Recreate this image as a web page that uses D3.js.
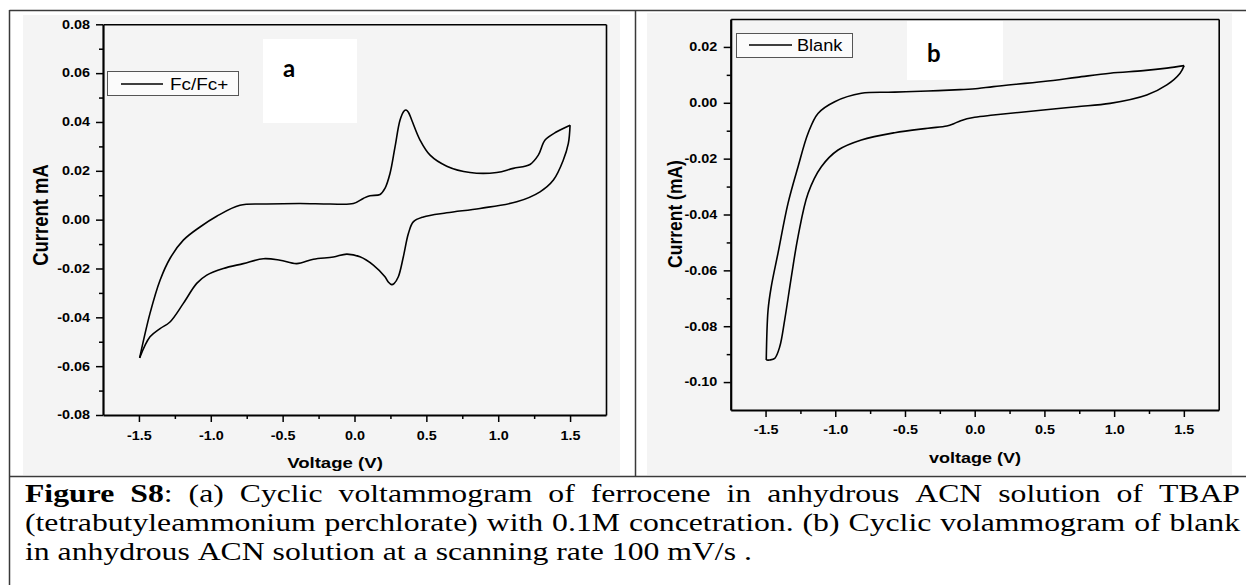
<!DOCTYPE html>
<html><head><meta charset="utf-8">
<script src="https://cdn.jsdelivr.net/npm/d3@7"></script>
<style>body{margin:0;background:#fff}svg{display:block}</style>
</head><body>
<svg id="c" width="1246" height="585"></svg>
<script>
// ---------- data ----------
const xTicks = [-1.5, -1.0, -0.5, 0.0, 0.5, 1.0, 1.5];
const xMinor = [-1.25, -0.75, -0.25, 0.25, 0.75, 1.25];
const aYTicks = [-0.08, -0.06, -0.04, -0.02, 0.00, 0.02, 0.04, 0.06, 0.08];
const aYMinor = [-0.07, -0.05, -0.03, -0.01, 0.01, 0.03, 0.05, 0.07];
const bYTicks = [-0.10, -0.08, -0.06, -0.04, -0.02, 0.00, 0.02];
const bYMinor = [-0.09, -0.07, -0.05, -0.03, -0.01, 0.01];

// panel a : Fc/Fc+  (forward = anodic sweep, reverse = cathodic sweep)
const aFwdV = [-1.495,-1.423,-1.353,-1.284,-1.191,-1.075,-0.959,-0.797,-0.611,-0.379,-0.170,-0.008,0.061,0.108,0.178,0.212,0.247,0.282,0.317,0.345,0.359,0.375,0.398,0.456,0.526,0.642,0.804,0.990,1.105,1.221,1.279,1.326,1.407,1.500];
const aFwdI = [-0.0566,-0.0384,-0.0248,-0.0159,-0.0084,-0.0030,0.0014,0.0059,0.0064,0.0066,0.0064,0.0066,0.0087,0.0098,0.0103,0.0128,0.0189,0.0298,0.0408,0.0445,0.0449,0.0440,0.0408,0.0326,0.0264,0.0219,0.0193,0.0193,0.0210,0.0226,0.0264,0.0326,0.0360,0.0387];
const aRevV = [1.500,1.488,1.453,1.384,1.291,1.129,0.873,0.642,0.479,0.409,0.375,0.340,0.305,0.275,0.259,0.235,0.212,0.131,0.038,-0.054,-0.147,-0.286,-0.402,-0.518,-0.634,-0.774,-0.913,-1.028,-1.098,-1.191,-1.284,-1.353,-1.423,-1.495];
const aRevI = [0.0387,0.0312,0.0244,0.0162,0.0114,0.0073,0.0046,0.0028,0.0011,-0.0009,-0.0057,-0.0152,-0.0234,-0.0262,-0.0266,-0.0255,-0.0234,-0.0186,-0.0152,-0.0141,-0.0153,-0.0162,-0.0180,-0.0166,-0.0160,-0.0180,-0.0200,-0.0227,-0.0261,-0.0343,-0.0419,-0.0446,-0.0480,-0.0566];

// panel b : Blank
const bFwdV = [-1.495,-1.482,-1.459,-1.411,-1.339,-1.267,-1.195,-1.124,-1.004,-0.813,-0.574,-0.335,-0.105,0.024,0.134,0.492,0.732,0.971,1.210,1.378,1.502];
const bFwdI = [-0.0921,-0.0742,-0.0658,-0.0539,-0.0360,-0.0229,-0.0109,-0.0038,0.0004,0.0034,0.0038,0.0042,0.0047,0.0051,0.0058,0.0076,0.0091,0.0106,0.0115,0.0124,0.0133];
const bRevV = [1.502,1.473,1.378,1.234,0.971,0.732,0.492,0.134,0.000,-0.100,-0.150,-0.200,-0.335,-0.574,-0.813,-0.980,-1.100,-1.195,-1.267,-1.315,-1.363,-1.398,-1.434,-1.470,-1.495];
const bRevI = [0.0133,0.0106,0.0064,0.0028,-0.0002,-0.0014,-0.0026,-0.0044,-0.0052,-0.0064,-0.0075,-0.0083,-0.0091,-0.0107,-0.0133,-0.0169,-0.0229,-0.0324,-0.0479,-0.0623,-0.0778,-0.0873,-0.0915,-0.0921,-0.0921];

const captionLines = [
  "**Figure** **S8**: (a) Cyclic voltammogram of ferrocene in anhydrous ACN solution of TBAP",
  "(tetrabutyleammonium perchlorate) with 0.1M concetration. (b) Cyclic volammogram of blank",
  "in anhydrous ACN solution at a scanning rate 100 mV/s ."
];

// ---------- drawing ----------
const svg = d3.select('#c');
const SX = 1.2;            // horizontal stretch of the source image lettering
const SANS = '"Liberation Sans", Arial, sans-serif';
const BORDER = '#3a3a3a';
const fmt = p => d => d3.format(p)(d).replace('\u2212', '-');

// table borders
[[9.5,10.5,1246,10.5],[9.5,10,9.5,585],[635.5,10,635.5,477],[9,476.5,1246,476.5]].forEach(l=>{
  svg.append('line').attr('x1',l[0]).attr('y1',l[1]).attr('x2',l[2]).attr('y2',l[3])
     .attr('stroke',BORDER).attr('stroke-width',1.5);
});

function txt(g, x, y, s, o) {
  o = o || {};
  return g.append('text')
    .attr('transform', `translate(${x},${y}) scale(${o.sx || SX},1)` + (o.rot ? ` rotate(${o.rot})` : ''))
    .attr('font-family', o.font || SANS)
    .attr('font-size', o.size || 12)
    .attr('font-weight', o.weight || 'normal')
    .attr('text-anchor', o.anchor || 'start')
    .attr('fill', '#000')
    .text(s);
}

function panel(cfg) {
  const g = svg.append('g');
  g.append('rect').attr('x', cfg.img[0]).attr('y', cfg.img[1]).attr('width', cfg.img[2]).attr('height', cfg.img[3]).attr('fill', '#f4f4f4');
  g.append('rect').attr('x', cfg.tagBox[0]).attr('y', cfg.tagBox[1]).attr('width', cfg.tagBox[2]).attr('height', cfg.tagBox[3]).attr('fill', '#fff');

  const x = d3.scaleLinear([-1.75, 1.75], cfg.xRange);
  const y = d3.scaleLinear(cfg.yDomain, cfg.yRange);
  const [x0, x1] = cfg.xRange, [y0, y1] = cfg.yRange;

  const style = s => s.attr('font-family', SANS).call(a => a.selectAll('line').attr('stroke', '#000').attr('stroke-width', 1.5));

  // minor ticks
  g.append('g').attr('transform', `translate(${x0},0)`)
    .call(d3.axisLeft(y).tickValues(cfg.yMinor).tickSize(4).tickSizeOuter(0).tickFormat(''))
    .call(style).call(s => s.select('.domain').remove());
  g.append('g').attr('transform', `translate(0,${y0})`)
    .call(d3.axisBottom(x).tickValues(xMinor).tickSize(4).tickSizeOuter(0).tickFormat(''))
    .call(style).call(s => s.select('.domain').remove());

  // major axes
  const ya = g.append('g').attr('transform', `translate(${x0},0)`)
    .call(d3.axisLeft(y).tickValues(cfg.yTicks).tickSize(7).tickSizeOuter(0).tickFormat(fmt('.2f')))
    .call(style);
  ya.select('.domain').attr('stroke', '#000').attr('stroke-width', 2.2);
  ya.selectAll('text').attr('x', -cfg.yLabGap / SX).attr('transform', `scale(${SX},1)`)
    .attr('font-size', 12).attr('font-weight', 'bold').attr('fill', '#000');

  const xa = g.append('g').attr('transform', `translate(0,${y0})`)
    .call(d3.axisBottom(x).tickValues(xTicks).tickSize(7).tickSizeOuter(0).tickFormat(fmt('.1f')))
    .call(style);
  xa.select('.domain').attr('stroke', '#000').attr('stroke-width', 2.2);
  xa.selectAll('text').attr('y', cfg.xLabGap).attr('transform', `scale(${SX},1)`)
    .attr('font-size', 12).attr('font-weight', 'bold').attr('fill', '#000');

  // frame top / right
  g.append('g').attr('transform', `translate(0,${y1})`)
    .call(d3.axisTop(x).tickValues([]).tickSizeOuter(0))
    .select('.domain').attr('stroke', '#000').attr('stroke-width', 1.6);
  g.append('g').attr('transform', `translate(${x1},0)`)
    .call(d3.axisRight(y).tickValues([]).tickSizeOuter(0))
    .select('.domain').attr('stroke', '#000').attr('stroke-width', 1.6);

  // curves
  const line = d3.line().x(d => x(d[0])).y(d => y(d[1])).curve(d3.curveCatmullRom.alpha(0.5));
  [cfg.fwd, cfg.rev].forEach(d => {
    g.append('path').datum(d).attr('d', line).attr('fill', 'none')
      .attr('stroke', '#000').attr('stroke-width', 1.6).attr('stroke-linejoin', 'round');
  });

  // legend
  const L = cfg.legend;
  g.append('rect').attr('x', L.box[0] + 0.5).attr('y', L.box[1] + 0.5).attr('width', L.box[2]).attr('height', L.box[3])
    .attr('fill', '#fbfbfb').attr('stroke', '#555').attr('stroke-width', 1);
  g.append('line').attr('x1', L.line[0]).attr('x2', L.line[1]).attr('y1', L.line[2]).attr('y2', L.line[2])
    .attr('stroke', '#000').attr('stroke-width', 1.6);
  txt(g, L.text[0], L.text[1], L.label, { size: L.size, sx: L.sx });

  // axis titles
  txt(g, cfg.yTitle[0], cfg.yTitle[1], cfg.yTitle[2], { size: cfg.yTitle[3], weight: 'bold', anchor: 'middle', rot: -90 });
  txt(g, cfg.xTitle[0], cfg.xTitle[1], cfg.xTitle[2], { size: cfg.xTitle[3], weight: 'bold', anchor: 'middle' });

  // panel tag
  txt(g, cfg.tag[0], cfg.tag[1], cfg.tag[2], { size: 24, weight: 'bold', sx: 1, font: 'Lato, "Open Sans", sans-serif' });
}

panel({
  img: [23, 15, 597, 460], tagBox: [263, 39, 94, 84],
  xRange: [103, 606], yDomain: [-0.08, 0.08], yRange: [415, 24.3],
  yTicks: aYTicks, yMinor: aYMinor, yLabGap: 13, xLabGap: 16,
  fwd: d3.zip(aFwdV, aFwdI), rev: d3.zip(aRevV, aRevI),
  legend: { box: [107, 71, 131, 24], line: [121, 163, 84], text: [170, 89.5], label: 'Fc/Fc+', size: 16, sx: 1.18 },
  yTitle: [48, 215, 'Current mA', 18.5], xTitle: [335, 468, 'Voltage (V)', 15.5],
  tag: [283, 77, 'a']
});

panel({
  img: [647, 13, 585, 462], tagBox: [907, 21, 96, 59],
  xRange: [730.7, 1218.7], yDomain: [-0.11, 0.03], yRange: [410, 19],
  yTicks: bYTicks, yMinor: bYMinor, yLabGap: 13.5, xLabGap: 15.5,
  fwd: d3.zip(bFwdV, bFwdI), rev: d3.zip(bRevV, bRevI),
  legend: { box: [736, 33, 116, 24], line: [749, 792, 45], text: [797, 51], label: 'Blank', size: 16.5, sx: 1.1 },
  yTitle: [682, 214, 'Current (mA)', 17.5], xTitle: [975, 463, 'voltage (V)', 15],
  tag: [927, 62, 'b']
});

// caption
const CF = 26, CSX = 1.22, CL = 25, CR = 1240, base = [502, 531, 560];
const cap = svg.append('g');
captionLines.forEach((line, i) => {
  const words = line.split(' ');
  const nodes = words.map(w => {
    const t = cap.append('text').attr('font-family', '"Liberation Serif","Times New Roman",serif')
      .attr('font-size', CF).attr('fill', '#000');
    w.split(/(\*\*[^*]+\*\*)/).filter(s => s).forEach(s => {
      const b = s.startsWith('**');
      t.append('tspan').attr('font-weight', b ? 'bold' : 'normal').text(b ? s.slice(2, -2) : s);
    });
    return t;
  });
  const widths = nodes.map(n => n.node().getComputedTextLength() * CSX);
  const total = d3.sum(widths);
  const gap = i < 2 ? (CR - CL - total) / (words.length - 1) : CF * 0.25 * CSX;
  let xp = CL;
  nodes.forEach((n, k) => { n.attr('transform', `translate(${xp},${base[i]}) scale(${CSX},1)`); xp += widths[k] + gap; });
});
</script>
</body></html>
